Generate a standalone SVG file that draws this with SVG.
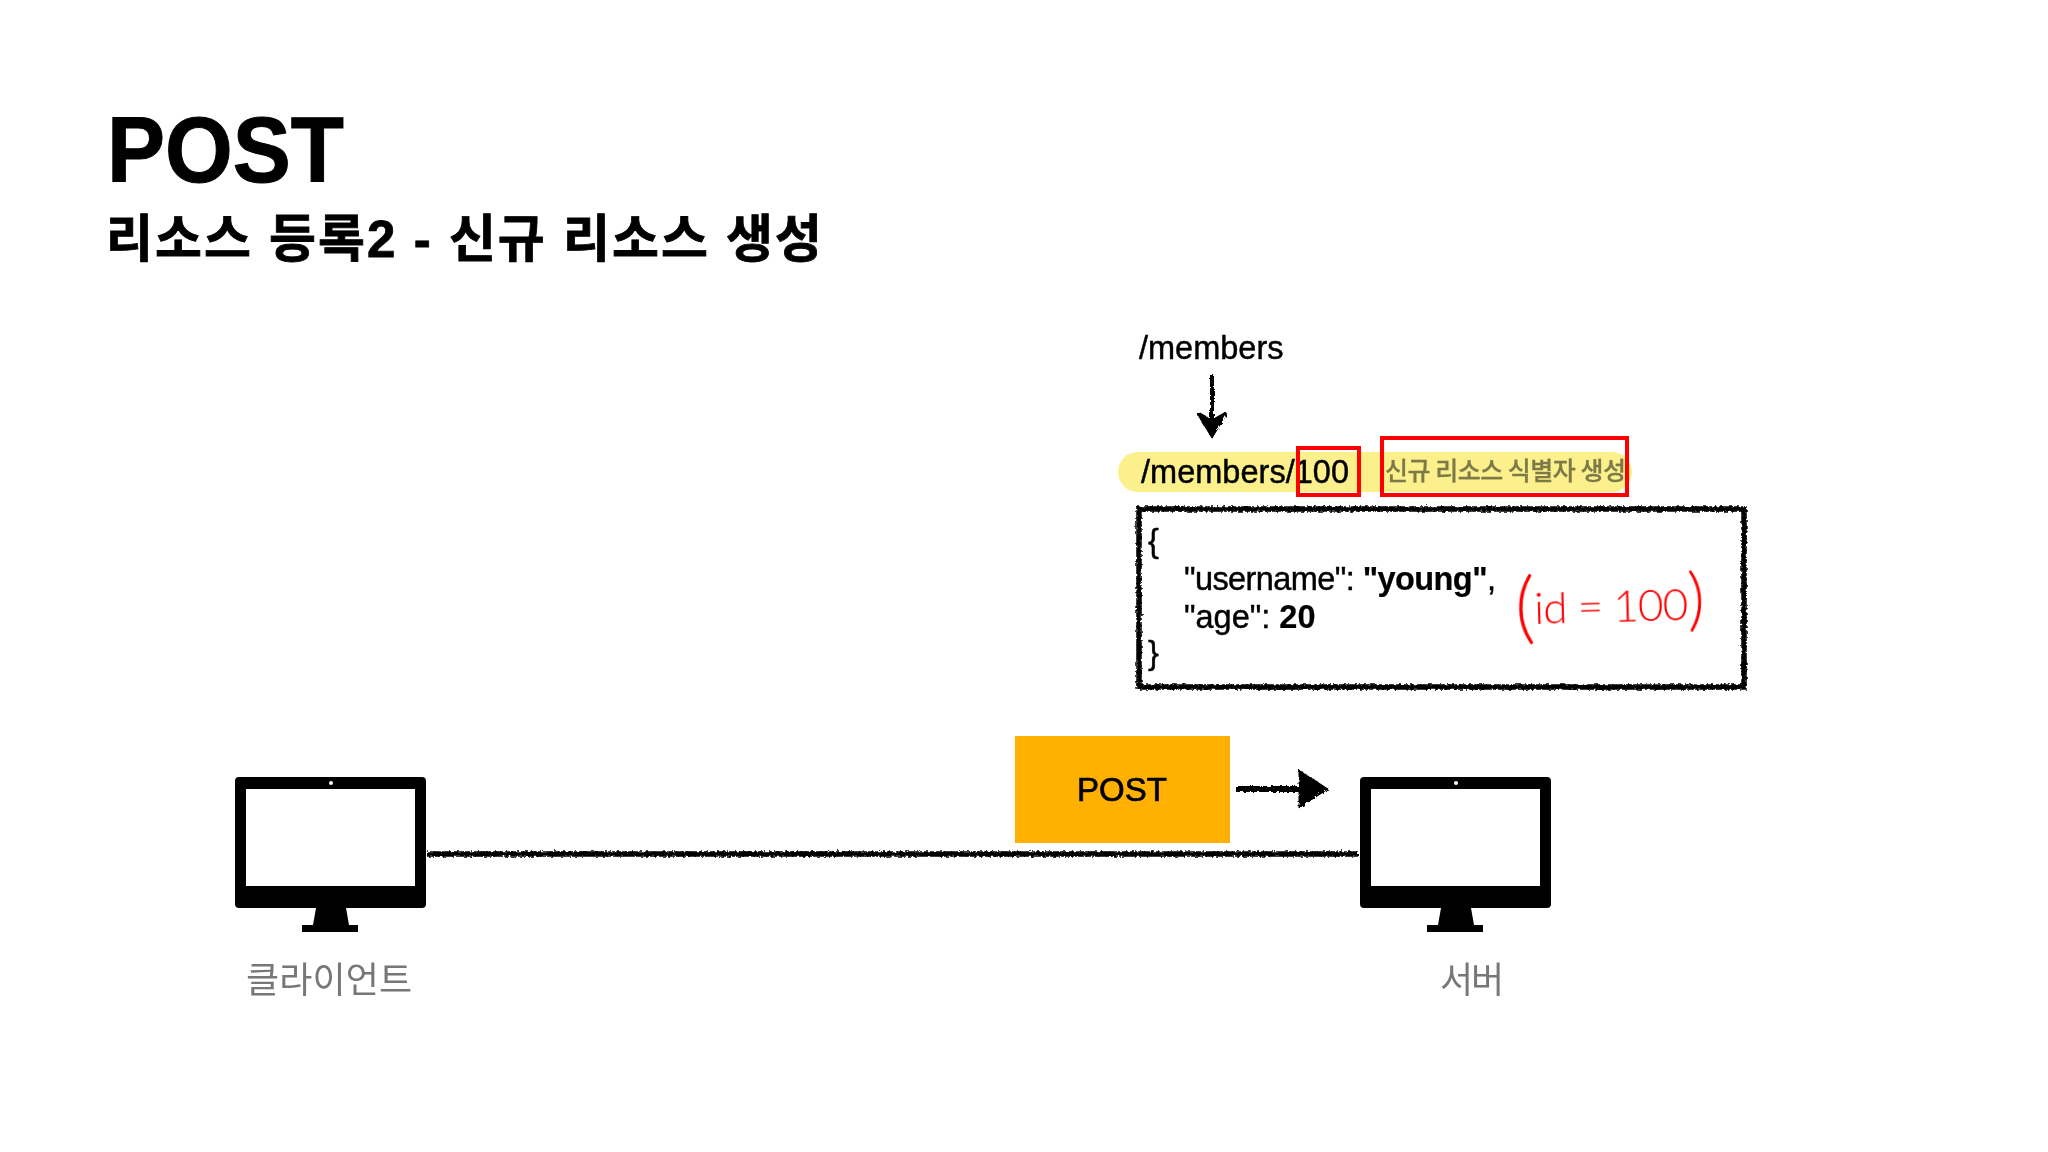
<svg xmlns="http://www.w3.org/2000/svg" width="2048" height="1152" viewBox="0 0 2048 1152">
<style>
text{font-family:"Liberation Sans","Noto Sans CJK KR",sans-serif;fill:#000;filter:url(#soft)}
.ko{font-family:"Noto Sans CJK KR","Liberation Sans",sans-serif}
.b{font-size:32.5px;stroke:#000;stroke-width:.45px}
.sb{stroke:#000;stroke-width:.7px}
.strong{font-weight:700;stroke-width:.2px}
.label{font-size:36px;fill:#777}
.rough{fill:none;stroke:#000;filter:url(#roughAll)}
.head{fill:#000;stroke:#000;stroke-width:3;filter:url(#roughAll)}
.red{fill:none;stroke:#f00;stroke-width:4}
</style>
<defs>
<filter id="soft" x="-5%" y="-20%" width="110%" height="140%"><feGaussianBlur stdDeviation="0.45"/></filter>
<filter id="roughAll" x="0" y="0" width="2048" height="1152" filterUnits="userSpaceOnUse"><feTurbulence type="fractalNoise" baseFrequency="0.35" numOctaves="2" seed="4" result="n"/><feDisplacementMap in="SourceGraphic" in2="n" scale="4.5"/></filter>
<g id="monitor">
<path fill-rule="evenodd" d="M4 0H187a4 4 0 0 1 4 4V127a4 4 0 0 1-4 4H4a4 4 0 0 1-4-4V4a4 4 0 0 1 4-4ZM11 12V109H180V12Z"/>
<path d="M81 131H111L114 148H123V155H67V148H78Z"/>
<circle cx="96" cy="6" r="2" fill="#fff"/>
</g>
</defs>
<rect width="2048" height="1152" fill="#fff"/>

<text x="107" y="182" font-size="92" font-weight="700" stroke="#000" stroke-width="1" textLength="237" lengthAdjust="spacingAndGlyphs">POST</text>
<text x="106" y="257" font-size="51" font-weight="700" stroke="#000" stroke-width=".8" textLength="716">리소스 등록2 - 신규 리소스 생성</text>

<g id="connectors">
<path class="rough" stroke-width="5.5" d="M427 854H1358"/>
<path class="rough" stroke-width="6" d="M1236 789H1305"/>
<path class="head" d="M1300 772L1326 789L1300 806Z"/>
<path class="rough" stroke-width="4" d="M1212 375V430"/>
<path class="head" d="M1198 413L1212 421L1226 413L1212 436Z"/>
</g>

<g id="client"><use href="#monitor" x="235" y="777"/><text class="ko label" x="329" y="993" text-anchor="middle" textLength="166">클라이언트</text></g>
<g id="server"><use href="#monitor" x="1360" y="777"/><text class="ko label" x="1472" y="993" text-anchor="middle" textLength="64">서버</text></g>
<g id="post-method"><rect x="1015" y="736" width="215" height="107" fill="#ffb000"/><text class="sb" x="1122" y="801" font-size="33" text-anchor="middle">POST</text></g>
<g id="members-label"><text class="b" x="1139" y="359">/members</text></g>
<g id="url">
<rect x="1118" y="452" width="514" height="40" rx="20" fill="#fbf08c"/>
<text class="b" x="1141" y="483" textLength="208">/members/100</text>
<rect class="red" x="1298" y="448" width="61" height="47"/>
</g>
<g id="id-note">
<text class="ko" x="1385" y="480" font-size="25" font-weight="500" style="fill:#7d7a48;stroke:#7d7a48;stroke-width:.3" textLength="241">신규 리소스 식별자 생성</text>
<rect class="red" x="1382" y="438" width="245" height="57"/>
</g>
<g id="body">
<rect class="rough" x="1139" y="509" width="605" height="178" stroke-width="5.5"/>
<text class="b" x="1148" y="552">{</text>
<text class="b" x="1184" y="590" textLength="312">"username": <tspan class="strong">"young"</tspan>,</text>
<text class="b" x="1184" y="628">"age": <tspan class="strong">20</tspan></text>
<text class="b" x="1148" y="664">}</text>
</g>
<g id="handwritten-id">
<text x="1515" y="632" style="font-family:Lato,'Liberation Sans',sans-serif;font-weight:300;fill:#f00" font-size="44" textLength="190" transform="rotate(-1.5 1610 610)"><tspan font-size="78">(</tspan><tspan dy="-10">id = 100</tspan><tspan font-size="68" dy="3">)</tspan></text>
</g>
</svg>
